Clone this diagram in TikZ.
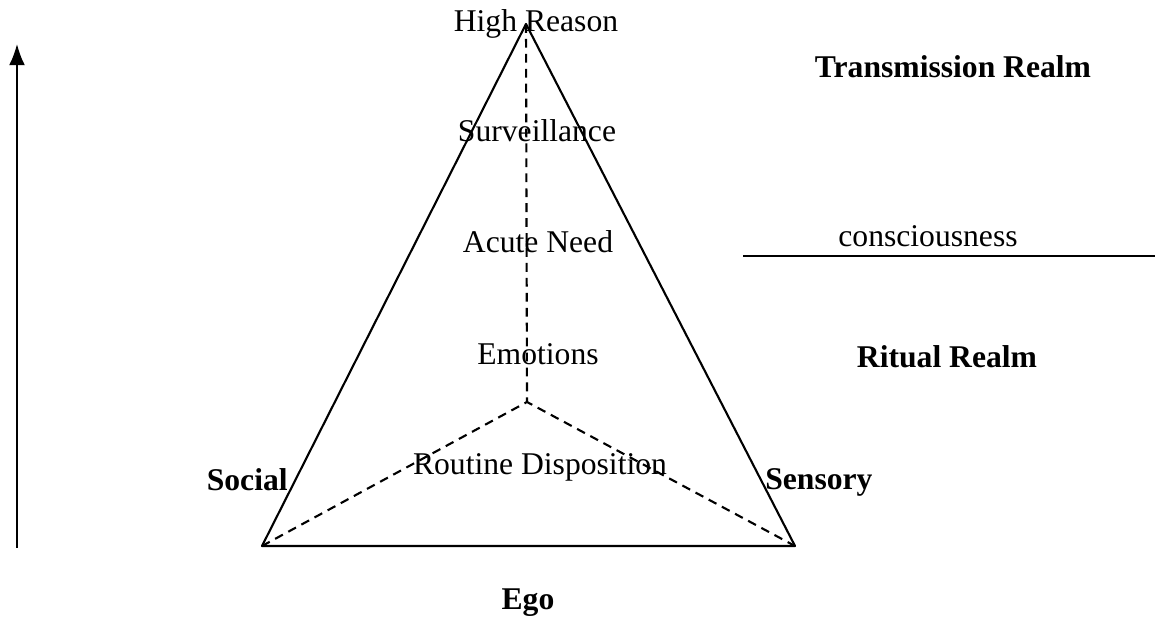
\documentclass[tikz,border=0pt]{standalone}
\usepackage{fontspec}
\setmainfont{Liberation Serif}
\usetikzlibrary{calc}
\usetikzlibrary{arrows.meta}
\tikzset{
  lbl/.style={font=\fontsize{18}{21}\selectfont, inner sep=0pt, anchor=base},
  blbl/.style={lbl, font=\fontsize{18}{21}\selectfont\bfseries},
  edge/.style={line width=1.2pt},
  hidden/.style={line width=1.2pt, dashed, dash pattern=on 5pt off 3.5pt}
}
\begin{document}
\begin{tikzpicture}
            \useasboundingbox (0,0) rectangle (23.18,12.36);

            % Corners of the pyramid
            \coordinate (apex) at (10.52,11.88);
            \coordinate (social) at (5.24,1.44);
            \coordinate (sensory) at (15.90,1.44);
            \coordinate (core) at (10.54,4.32);

            % Hidden edges
            \draw[hidden] (apex) -- (core);
            \draw[hidden] (social) -- (core) -- (sensory);

            % Outline
            \draw[edge, line join=round] (apex) -- (social) -- (sensory) -- cycle;

            % Levels
            \node[lbl] (high) at (10.72,11.72) {High Reason};
            \node[lbl] (surv) at (10.74,9.52) {Surveillance};
            \node[lbl] (acute) at (10.76,7.30) {Acute Need};
            \node[lbl] (emo) at (10.76,5.06) {Emotions};
            \node[lbl] (routine) at (10.80,2.86) {Routine Disposition};

            % Corner labels
            \node[blbl, anchor=base east] (soc) at (5.76,2.54) {Social};
            \node[blbl, anchor=base west] (sens) at (15.30,2.56) {Sensory};
            \node[blbl] (ego) at (10.56,0.16) {Ego};

            % Realms
            \node[blbl] (trans) at (19.06,10.80) {Transmission Realm};
            \node[lbl] (consc) at (18.56,7.42) {consciousness};
            \node[blbl] (ritual) at (18.94,5.00) {Ritual Realm};
            \coordinate (divL) at (14.86,7.24);
            \coordinate (divR) at (23.10,7.24);
            \draw[line width=1.1pt] (divL) -- (divR);

            % Rising arrow
            \coordinate (lowA) at (0.34,1.40);
            \coordinate (topA) at (0.34,11.48);
            \draw[line width=1.1pt, -{Latex[length=12pt,width=9pt]}] (lowA) -- (topA);

        \end{tikzpicture}
\end{document}
